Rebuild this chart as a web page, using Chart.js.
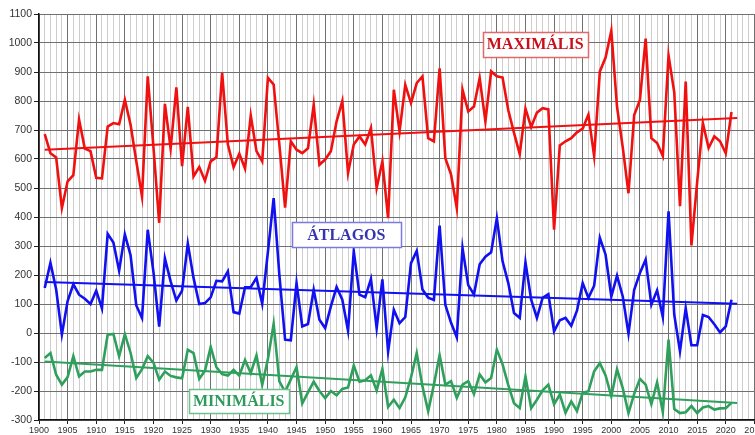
<!DOCTYPE html>
<html>
<head>
<meta charset="utf-8">
<script src="https://cdn.jsdelivr.net/npm/chart.js@4"></script>
<style>
  html, body { margin: 0; padding: 0; background: #fff; overflow: hidden; }
  #wrap { width: 800px; height: 435px; }
</style>
</head>
<body>
<div id="wrap"><canvas id="chart" width="800" height="435"></canvas></div>
<script>
// Yearly values 1901-2021
const firstYear = 1901;

const maxValues = [
  686, 620, 605, 431, 523, 544, 736, 636, 627, 535,
  533, 712, 724, 720, 804, 718, 592, 471, 885, 640,
  380, 790, 636, 847, 575, 780, 540, 572, 525, 592,
  606, 897, 650, 572, 618, 567, 750, 627, 592, 880,
  857, 650, 432, 661, 632, 620, 637, 787, 580, 598,
  627, 730, 800, 552, 650, 678, 650, 707, 500, 592,
  396, 839, 695, 856, 793, 862, 885, 672, 661, 913,
  603, 546, 431, 839, 764, 781, 879, 730, 902, 885,
  881, 768, 690, 617, 774, 710, 760, 775, 771, 356,
  647, 661, 672, 692, 705, 753, 610, 902, 950, 1042,
  780, 640, 482, 752, 804, 1015, 672, 655, 610, 957,
  830, 437, 867, 302, 520, 724, 638, 678, 661, 620,
  762
];

const avgValues = [
  155, 242, 150, -5, 110, 168, 132, 118, 100, 146,
  85, 342, 312, 215, 340, 268, 95, 52, 356, 210,
  22, 257, 178, 112, 146, 308, 190, 100, 103, 123,
  180, 178, 212, 72, 67, 158, 158, 190, 101, 280,
  465, 200, -23, -25, 172, 23, 31, 149, 46, 17,
  92, 159, 115, 8, 282, 132, 123, 186, 17, 185,
  -64, 80, 34, 55, 241, 283, 150, 122, 114, 370,
  97, 35, -15, 293, 165, 133, 237, 263, 278, 396,
  247, 172, 69, 52, 244, 115, 52, 121, 134, 6,
  44, 52, 25, 77, 172, 121, 163, 328, 270, 126,
  198, 126, -2, 149, 207, 253, 98, 147, 55, 420,
  63, -63, 85, -42, -42, 62, 55, 30, 2, 23,
  115
];

const minValues = [
  -86, -69, -144, -178, -152, -80, -150, -133, -133, -127,
  -127, -6, -3, -80, -4, -68, -155, -125, -80, -102,
  -161, -133, -148, -153, -156, -58, -69, -158, -130, -48,
  -118, -142, -147, -127, -147, -93, -138, -77, -179, -90,
  32, -167, -203, -160, -118, -243, -205, -168, -200, -225,
  -200, -215, -193, -188, -112, -168, -163, -146, -198, -124,
  -255, -230, -259, -222, -153, -69, -184, -270, -178, -76,
  -178, -166, -224, -178, -166, -210, -143, -170, -155, -57,
  -108, -180, -242, -259, -150, -259, -230, -198, -178, -246,
  -212, -275, -236, -269, -206, -201, -132, -104, -146, -218,
  -125, -190, -276, -210, -158, -178, -245, -170, -273, -23,
  -262, -276, -273, -252, -276, -257, -252, -264, -260, -259,
  -241
];

// Linear trend end points [start, end] for each series
const trendYears = [1901, 2022];
const maxTrend = [632, 741];
const avgTrend = [176, 101];
const minTrend = [-98, -241];

// Axis ranges and tick steps
const xRange = [1900, 2030];
const yRange = [-300, 1100];
const yStep = 100;
const xLabelStep = 5;

const years = maxValues.map((_, i) => firstYear + i);
const toPoints = vals => vals.map((v, i) => ({ x: years[i], y: v }));
const trendPoints = ends => ends.map((v, i) => ({ x: trendYears[i], y: v }));

const RED = '#f01010';
const BLUE = '#1010f0';
const GREEN = '#2ea05c';

// Boxed series captions placed in data coordinates
const captions = [
  { text: 'MAXIMÁLIS', year: 1986.7, value: 996, w: 105, h: 25, color: '#c8101a', border: '#e06a6a' },
  { text: 'ÁTLAGOS',   year: 1953.7, value: 340, w: 109, h: 25, color: '#3434b0', border: '#7a7ae0' },
  { text: 'MINIMÁLIS', year: 1934.9, value: -233, w: 100, h: 24, color: '#2e9a5a', border: '#6cc08c' }
];

const captionPlugin = {
  id: 'captions',
  afterDatasetsDraw(chart) {
    const { ctx, scales: { x, y } } = chart;
    ctx.save();
    captions.forEach(c => {
      const cx = x.getPixelForValue(c.year);
      const cy = y.getPixelForValue(c.value);
      const left = Math.round(cx - c.w / 2) + 0.5;
      const top = Math.round(cy - c.h / 2) + 0.5;
      ctx.fillStyle = '#ffffff';
      ctx.fillRect(left, top, c.w, c.h);
      ctx.strokeStyle = c.border;
      ctx.lineWidth = 1.5;
      ctx.strokeRect(left, top, c.w, c.h);
      ctx.fillStyle = c.color;
      ctx.font = 'bold 16px "Liberation Serif", "DejaVu Serif", serif';
      ctx.textAlign = 'center';
      ctx.textBaseline = 'middle';
      ctx.fillText(c.text, cx, cy + 1);
    });
    ctx.restore();
  }
};

const lineSet = (vals, color) => ({
  data: toPoints(vals),
  borderColor: color,
  borderWidth: 2.6,
  pointRadius: 0,
  tension: 0,
  fill: false
});
const trendSet = (ends, color) => ({
  data: trendPoints(ends),
  borderColor: color,
  borderWidth: 2,
  pointRadius: 0,
  tension: 0,
  fill: false
});

new Chart(document.getElementById('chart'), {
  type: 'line',
  data: {
    datasets: [
      lineSet(maxValues, RED),
      trendSet(maxTrend, RED),
      lineSet(avgValues, BLUE),
      trendSet(avgTrend, BLUE),
      lineSet(minValues, GREEN),
      trendSet(minTrend, GREEN)
    ]
  },
  options: {
    responsive: false,
    animation: false,
    events: [],
    layout: { padding: { left: 0, top: 14, right: 17, bottom: 0 } },
    plugins: { legend: { display: false }, tooltip: { enabled: false } },
    scales: {
      x: {
        type: 'linear',
        min: xRange[0],
        max: xRange[1],
        afterFit: s => { s.height = 15; },
        afterBuildTicks: s => {
          const t = [];
          for (let v = xRange[0]; v <= xRange[1]; v++) t.push({ value: v });
          s.ticks = t;
        },
        ticks: {
          autoSkip: false,
          maxRotation: 0,
          padding: 1,
          color: '#333',
          font: { family: '"Liberation Sans", Arial, sans-serif', size: 9 },
          callback: v => (v % xLabelStep === 0 ? String(v) : '')
        },
        grid: {
          color: c => (c.tick && c.tick.value % xLabelStep === 0 ? '#707070' : '#cdcdcd'),
          lineWidth: 1,
          tickLength: 4,
          tickColor: c => (c.tick && c.tick.value % xLabelStep === 0 ? '#222' : 'rgba(0,0,0,0)')
        },
        border: { color: '#111', width: 1.5 }
      },
      y: {
        min: yRange[0],
        max: yRange[1],
        afterFit: s => { s.width = 39; },
        ticks: {
          stepSize: yStep,
          padding: 2,
          color: '#333',
          font: { family: '"Liberation Sans", Arial, sans-serif', size: 10.5 },
          callback: v => String(v)
        },
        grid: {
          color: '#707070',
          lineWidth: 1,
          tickLength: 5,
          tickColor: '#222'
        },
        border: { color: '#111', width: 1.5 }
      }
    }
  },
  plugins: [captionPlugin]
});
</script>
</body>
</html>
